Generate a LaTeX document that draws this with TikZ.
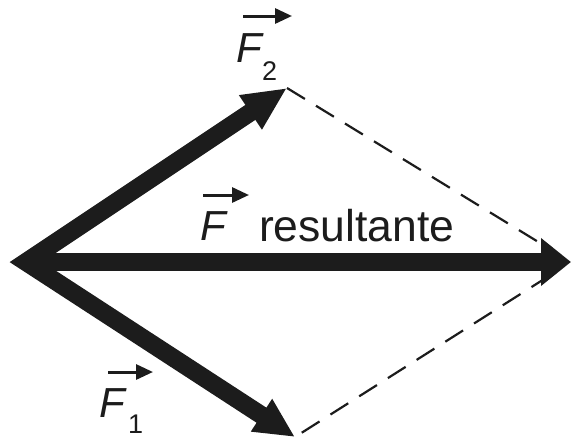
\documentclass[tikz,border=0pt]{standalone}
\usepackage{fontspec}
\setmainfont{Liberation Sans}
\usetikzlibrary{arrows.meta}
\definecolor{ink}{HTML}{1C1C1C}
\begin{document}
\begin{tikzpicture}[x=1pt,y=-1pt,
  shaft/.style={draw=ink, line width=18pt, line join=miter, miter limit=10},
  dashline/.style={draw=ink, line width=2.2pt, dash pattern=on 21pt off 13pt},
  lab/.style={inner sep=0pt, outer sep=0pt, anchor=base west, text=ink,
    font=\fontsize{42}{48}\selectfont},
  wordlab/.style={inner sep=0pt, outer sep=0pt, anchor=base west, text=ink,
    font=\fontsize{44.5}{50}\selectfont},
  sublab/.style={inner sep=0pt, outer sep=0pt, anchor=base west, text=ink,
    font=\fontsize{27}{30}\selectfont},
  vecarr/.style={draw=ink, line width=3pt, -{Triangle[length=17pt,width=15pt]}}
]
\useasboundingbox (0,0) rectangle (572,440);
% key points
\coordinate (c) at (26,262);
\coordinate (f2tip) at (287,88);
\coordinate (f1tip) at (295,437);
\coordinate (r0) at (40,262);
\coordinate (rtip) at (571,262);
% dashed parallelogram sides
\draw[dashline, shorten >=22pt] (f2tip) -- (rtip);
\draw[dashline, shorten <=8pt, shorten >=24pt] (f1tip) -- (rtip);
% component vectors
\draw[shaft, {Triangle[length=44pt,width=38pt]}-{Triangle[length=40pt,width=36pt]}]
  (f2tip) -- (c) -- (f1tip);
% resultant
\draw[shaft, -{Triangle[length=30pt,width=46pt]}] (r0) -- (rtip);
% labels
\node[lab] (F2) at (236,62) {\itshape F};
\node[sublab] (F2s) at (262,80) {2};
\coordinate (a2s) at (243,16);
\coordinate (a2e) at (292,16);
\draw[vecarr] (a2s) -- (a2e);

\node[lab] (FR) at (200,240) {\itshape F};
\node[wordlab] (res) at (259,241) {resultante};
\coordinate (ars) at (203,195);
\coordinate (are) at (249,195);
\draw[vecarr] (ars) -- (are);

\node[lab] (F1) at (99,417) {\itshape F};
\node[sublab] (F1s) at (128,433) {1};
\coordinate (a1s) at (108,372);
\coordinate (a1e) at (153,372);
\draw[vecarr] (a1s) -- (a1e);
\end{tikzpicture}
\end{document}
